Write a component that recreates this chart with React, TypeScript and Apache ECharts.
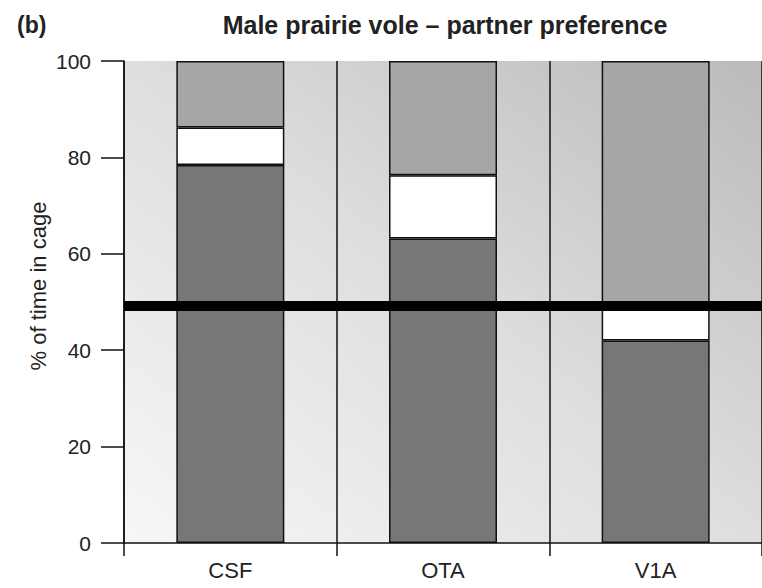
import React, { useEffect, useRef } from "react";
import * as echarts from "echarts";

const categories = ["CSF", "OTA", "V1A"];
const partner = [78.4, 63.2, 42.0];
const neutral = [7.8, 13.1, 7.3];
const stranger = [13.8, 23.7, 50.7];
const chanceLine = 49.3;
const yTicks = [0, 20, 40, 60, 80, 100];

const FONT = "'Liberation Sans', Arial, Helvetica, sans-serif";

export default function App() {
  const ref = useRef<HTMLDivElement>(null);
  useEffect(() => {
    if (!ref.current) return;
    const chart = echarts.init(ref.current, null, { renderer: "svg" });
    const border = { borderColor: "#111", borderWidth: 1.5 };
    const option = {
      animation: false,
      textStyle: { fontFamily: FONT },
      grid: {
        left: 124,
        top: 61,
        width: 642,
        height: 482,
        show: true,
        borderWidth: 0,
        backgroundColor: new echarts.graphic.LinearGradient(0, 1, 1, 0, [
          { offset: 0, color: "#f7f7f7" },
          { offset: 0.5, color: "#dedede" },
          { offset: 1, color: "#bababa" },
        ]),
      },
      title: [
        {
          text: "(b)",
          left: 12,
          top: 8,
          textStyle: { fontFamily: FONT, fontSize: 23, fontWeight: "bold", color: "#222" },
        },
        {
          text: "Male prairie vole – partner preference",
          left: 440,
          textAlign: "center",
          top: 7,
          textStyle: { fontFamily: FONT, fontSize: 25, fontWeight: "bold", color: "#222" },
        },
      ],
      graphic: [
        {
          type: "text",
          x: 38,
          y: 286,
          rotation: Math.PI / 2,
          style: {
            text: "% of time in cage",
            fontFamily: FONT,
            fontSize: 22,
            fill: "#222",
            align: "center",
            verticalAlign: "middle",
          },
        },
      ],
      xAxis: {
        type: "category",
        data: categories,
        boundaryGap: true,
        axisLine: { show: true, lineStyle: { color: "#111", width: 1.5 } },
        axisTick: { show: true, interval: 0, length: 13, lineStyle: { color: "#111", width: 1.5 } },
        axisLabel: { fontFamily: FONT, fontSize: 22, color: "#222", margin: 16 },
        splitLine: { show: true, interval: 0, lineStyle: { color: "#111", width: 1.5 } },
      },
      yAxis: {
        type: "value",
        min: yTicks[0],
        max: yTicks[yTicks.length - 1],
        interval: 20,
        axisLine: { show: true, lineStyle: { color: "#111", width: 1.5 } },
        axisTick: { show: true, length: 23, lineStyle: { color: "#111", width: 1.5 } },
        axisLabel: { fontFamily: FONT, fontSize: 21, color: "#222", margin: 33 },
        splitLine: { show: false },
      },
      series: [
        {
          type: "bar",
          stack: "a",
          data: partner,
          barWidth: 108,
          itemStyle: { color: "#777777", ...border },
        },
        {
          type: "bar",
          stack: "a",
          data: neutral,
          barWidth: 108,
          itemStyle: { color: "#ffffff", ...border },
        },
        {
          type: "bar",
          stack: "a",
          data: stranger,
          barWidth: 108,
          itemStyle: { color: "#a6a6a6", ...border },
          markLine: {
            silent: true,
            symbol: ["none", "none"],
            label: { show: false },
            lineStyle: { color: "#000", width: 10, type: "solid" },
            data: [{ yAxis: chanceLine }],
            z: 10,
          },
        },
      ],
    };
    chart.setOption(option as any);
    return () => chart.dispose();
  }, []);
  return (
    <div
      ref={ref}
      style={{ position: "fixed", left: 0, top: 0, width: 762, height: 588, background: "#fff" }}
    />
  );
}
